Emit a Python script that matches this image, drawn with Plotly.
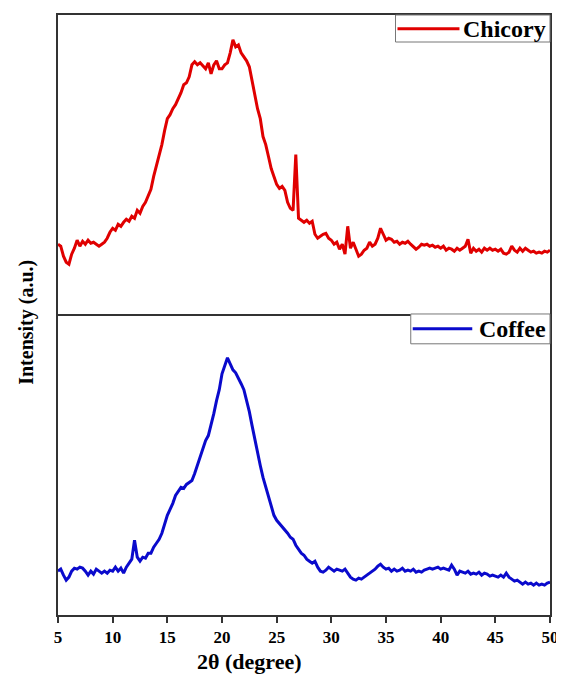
import numpy as np
import plotly.graph_objects as go

# 2θ sampling grid (degrees), 0.25° step from 5 to 50
theta_start = 5.0
theta_step = 0.25

chicory = [
    70, 68, 58, 52,
    50, 60, 66, 74,
    68, 73, 70, 74,
    71, 72, 70, 68,
    70, 72, 76, 82,
    86, 84, 90, 88,
    92, 95, 93, 98,
    96, 104, 101, 108,
    112, 118, 125, 138,
    148, 160, 170, 184,
    196, 200, 206, 210,
    216, 222, 230, 232,
    238, 250, 253, 250,
    252, 249, 246, 252,
    241, 250, 254, 246,
    246, 250, 252, 262,
    275, 268, 270, 262,
    258, 254, 248, 232,
    220, 206, 196, 178,
    170, 158, 146, 138,
    130, 126, 128, 124,
    112, 106, 104, 160,
    96, 94, 92, 94,
    91, 93, 80, 76,
    78, 80, 81, 76,
    74, 70, 72, 65,
    70, 60, 88, 66,
    72, 64, 58, 60,
    64, 66, 72, 68,
    70, 76, 86, 80,
    74, 76, 75, 72,
    73, 70, 72, 71,
    73, 70, 67, 65,
    67, 70, 69, 70,
    68, 69, 67, 68,
    66, 68, 64, 66,
    65, 63, 66, 64,
    66, 68, 75, 61,
    66, 63, 65, 62,
    66, 64, 66, 64,
    65, 63, 65, 61,
    60, 62, 68, 64,
    62, 66, 63, 66,
    64, 62, 63, 61,
    62, 61, 63, 62,
    64,
]

coffee = [
    44, 46, 40, 35,
    38, 44, 47, 46,
    48, 47, 44, 40,
    44, 41, 46, 44,
    42, 44, 42, 45,
    44, 48, 44, 47,
    42, 48, 52, 56,
    75, 58, 54, 58,
    57, 62, 62, 68,
    72, 76, 82, 92,
    100, 106, 112, 120,
    124, 128, 127, 131,
    133, 135, 142, 150,
    157, 166, 175, 180,
    190, 202, 215, 226,
    242, 250, 258, 252,
    246, 243, 238, 232,
    226, 216, 204, 190,
    176, 162, 150, 138,
    128, 118, 108, 100,
    95, 92, 88, 86,
    82, 78, 76, 70,
    66, 62, 60, 56,
    54, 52, 54, 48,
    44, 43, 45, 48,
    46, 44, 46, 45,
    44, 46, 42, 38,
    36, 35, 37, 36,
    38, 40, 42, 44,
    46, 49, 51, 48,
    46, 47, 44, 46,
    44, 45, 47, 44,
    45, 44, 46, 43,
    44, 43, 45, 46,
    47, 46, 47, 48,
    46, 47, 46, 45,
    50, 46, 40, 44,
    43, 42, 44, 41,
    42, 41, 43, 40,
    42, 41, 39, 40,
    39, 38, 40, 38,
    42, 38, 36, 34,
    35, 33, 31, 33,
    31, 32, 30, 32,
    30, 31, 30, 32,
    33,
]

x_ticks = [5, 10, 15, 20, 25, 30, 35, 40, 45, 50]
series_names = ["Chicory", "Coffee"]
series_colors = ["#e00000", "#0a0acc"]

theta_c = theta_start + theta_step * np.arange(len(chicory))
theta_f = theta_start + theta_step * np.arange(len(coffee))

SERIF = "Liberation Serif"
AXIS_COLOR = "#333333"
BOX_COLOR = "#777777"
LINE_W = 3.0
split = 0.5017

fig = go.Figure()
fig.add_trace(go.Scatter(x=theta_c, y=chicory, mode="lines", name=series_names[0],
                         line=dict(color=series_colors[0], width=LINE_W),
                         xaxis="x2", yaxis="y2", showlegend=False))
fig.add_trace(go.Scatter(x=theta_f, y=coffee, mode="lines", name=series_names[1],
                         line=dict(color=series_colors[1], width=LINE_W),
                         xaxis="x", yaxis="y", showlegend=False))

# legend boxes (paper coordinates): [x0, y_bottom, y_top, line_x0, line_x1, line_y]
legend_specs = [
    (0.686, 0.955, 1.0, 0.690, 0.816, 0.977),
    (0.717, 0.452, split, 0.721, 0.842, 0.477),
]
shapes = []
annotations = []
for (x0, yb, yt, lx0, lx1, ly), name, color in zip(legend_specs, series_names, series_colors):
    shapes.append(dict(type="rect", xref="paper", yref="paper", x0=x0, x1=1.0, y0=yb, y1=yt,
                       line=dict(color=BOX_COLOR, width=1), fillcolor="white", layer="above"))
    shapes.append(dict(type="line", xref="paper", yref="paper", x0=lx0, x1=lx1, y0=ly, y1=ly,
                       line=dict(color=color, width=LINE_W), layer="above"))
    annotations.append(dict(text=name, x=0.996, y=ly, xref="paper", yref="paper",
                            xanchor="right", yanchor="middle", showarrow=False,
                            font=dict(family=SERIF, size=24, color="black", weight="bold")))

annotations += [
    dict(text="2θ (degree)", x=0.389, y=-0.078, xref="paper", yref="paper",
         xanchor="center", yanchor="middle", showarrow=False,
         font=dict(family=SERIF, size=22, color="black", weight="bold")),
    dict(text="Intensity (a.u.)", x=-0.063, y=0.487, xref="paper", yref="paper",
         xanchor="center", yanchor="middle", showarrow=False, textangle=-90,
         font=dict(family=SERIF, size=20, color="black", weight="bold")),
]

fig.update_layout(
    width=556, height=668,
    margin=dict(l=50, r=12, t=5, b=61),
    paper_bgcolor="white", plot_bgcolor="white",
    showlegend=False,
    xaxis=dict(range=[5, 50], tickvals=x_ticks, ticks="outside", ticklen=6,
               tickwidth=1.5, tickcolor=AXIS_COLOR, showline=True,
               linecolor=AXIS_COLOR, linewidth=1.5, showgrid=False, zeroline=False,
               tickfont=dict(family=SERIF, size=17, color="black", weight="bold"),
               anchor="y"),
    xaxis2=dict(range=[5, 50], matches="x", showticklabels=False, ticks="",
                showline=True, mirror=True, linecolor=AXIS_COLOR, linewidth=1.5,
                showgrid=False, zeroline=False, anchor="y2"),
    yaxis=dict(domain=[0, split], range=[0, 302], showticklabels=False, ticks="",
               showline=True, mirror=True, linecolor=AXIS_COLOR, linewidth=1.5,
               showgrid=False, zeroline=False),
    yaxis2=dict(domain=[split, 1], range=[0, 300], showticklabels=False, ticks="",
                showline=True, mirror=True, linecolor=AXIS_COLOR, linewidth=1.5,
                showgrid=False, zeroline=False),
    shapes=shapes,
    annotations=annotations,
)

fig.write_html("out.html")
